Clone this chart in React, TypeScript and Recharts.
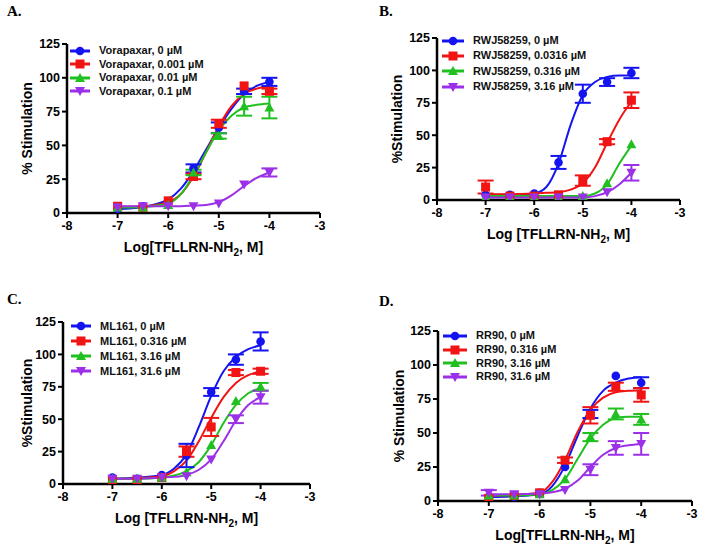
import { ComposedChart, ErrorBar, Legend, Line, Scatter, XAxis, YAxis } from "recharts";

const logDose = [-7, -6.5, -6, -5.5, -5, -4.5, -4];
const fitDose = [-7, -6.5, -6, -5.75, -5.5, -5.25, -5, -4.75, -4.5, -4.25, -4];
const xTicks = [-8, -7, -6, -5, -4, -3];
const yTicks = [0, 25, 50, 75, 100, 125];

const vorapaxarLabels = ["Vorapaxar, 0 µM", "Vorapaxar, 0.001 µM", "Vorapaxar, 0.01 µM", "Vorapaxar, 0.1 µM"];
const vorapaxarMean = [
  [3, 5, 8, 33, 63, 90, 97],
  [5, 4, 9, 27, 66, 94, 90],
  [4, 4, 6, 30, 57, 79, 78],
  [4, 5, 5, 5, 7, 21, 30],
];
const vorapaxarSem = [
  [0, 0, 0, 3, 4, 2, 3],
  [0, 0, 0, 2, 3, 0, 2],
  [0, 0, 0, 2, 2, 7, 8],
  [0, 0, 0, 0, 0, 0, 3],
];
const vorapaxarFit = [
  [3, 4.5, 10, 18, 31, 47, 63, 77, 88, 94, 97],
  [4.5, 5, 8, 14, 27, 45, 64, 79, 88, 92, 94],
  [4, 4.5, 7, 14, 28, 45, 61, 72, 78, 80, 81],
  [5, 5, 5, 5, 5.5, 6, 8, 13, 20, 26, 30],
];

const rwjLabels = ["RWJ58259, 0 µM", "RWJ58259, 0.0316 µM", "RWJ58259, 0.316 µM", "RWJ58259, 3.16 µM"];
const rwjMean = [
  [4, 4, 5, 29, 82, 91, 98],
  [10, 3, 3, 4, 15, 45, 77],
  [2, 2, 2, 2, 3, 13, 43],
  [2, 2, 2, 2, 2, 6, 21],
];
const rwjSem = [
  [0, 0, 0, 5, 7, 3, 4],
  [5, 0, 0, 0, 4, 2, 6],
  [0, 0, 0, 0, 0, 0, 0],
  [0, 0, 0, 0, 0, 0, 6],
];
const rwjFit = [
  [4, 4, 5, 10, 28, 58, 81, 91, 95, 96, 96],
  [4.5, 4.5, 5, 5.5, 6, 8, 13, 25, 44, 62, 76],
  [3, 3, 3, 3, 3, 3, 3, 5, 12, 28, 42],
  [2, 2, 2, 2, 2, 2, 2, 3, 6, 12, 21],
];

const ml161Labels = ["ML161, 0 µM", "ML161, 0.316 µM", "ML161, 3.16 µM", "ML161, 31.6 µM"];
const ml161Mean = [
  [5, 4, 7, 22, 71, 96, 110],
  [3, 3, 5, 25, 44, 86, 87],
  [4, 4, 5, 9, 30, 64, 75],
  [4, 4, 5, 6, 19, 50, 67],
];
const ml161Sem = [
  [0, 0, 0, 9, 3, 4, 7],
  [0, 0, 0, 4, 7, 2, 2],
  [0, 0, 0, 0, 0, 0, 3],
  [0, 0, 0, 0, 0, 3, 5],
];
const ml161Fit = [
  [4, 5, 7, 12, 23, 44, 68, 87, 98, 104, 107],
  [4, 4.5, 6, 10, 18, 33, 51, 67, 78, 84, 87],
  [4, 4, 5, 6.5, 10, 17, 30, 47, 61, 70, 74],
  [4, 4, 5, 5.5, 7, 11, 19, 33, 49, 61, 67],
];

const rr90Labels = ["RR90, 0 µM", "RR90, 0.316 µM", "RR90, 3.16 µM", "RR90, 31.6 µM"];
const rr90Mean = [
  [3, 3, 6, 25, 64, 92, 87],
  [2, 4, 6, 30, 63, 84, 78],
  [4, 4, 5, 16, 47, 64, 60],
  [6, 5, 5, 8, 23, 39, 42],
];
const rr90Sem = [
  [0, 0, 0, 0, 3, 0, 4],
  [0, 0, 0, 2, 6, 3, 5],
  [0, 0, 0, 0, 3, 4, 4],
  [2, 0, 0, 0, 4, 5, 8],
];
const rr90Fit = [
  [3, 3.5, 5, 11, 26, 48, 68, 81, 87, 90, 91],
  [4, 4.5, 6, 14, 30, 51, 67, 76, 80, 81, 81.5],
  [4, 4, 5, 8, 16, 31, 46, 56, 61, 62, 62],
  [5, 5, 5.5, 6.5, 9, 15, 25, 34, 39, 41, 42],
];

const COLORS = ["#1414f0", "#f01414", "#20c020", "#9b30e8"];
const SANS = "Arial, 'Liberation Sans', sans-serif";

const panels = [
  {
    letter: "A.", left: 0, top: 0, letterX: 7, letterY: 4,
    plot: { left: 67, right: 320, top: 44, bottom: 213 },
    yTitle: "% Stimulation", yTitleX: 27, xTitle: ["Log[TFLLRN-NH", "2", ", M]"],
    legend: { x: 70, y: 44, rowH: 13.5, lineW: 20 },
    labels: vorapaxarLabels, mean: vorapaxarMean, sem: vorapaxarSem, fit: vorapaxarFit,
  },
  {
    letter: "B.", left: 352, top: 0, letterX: 27, letterY: 4,
    plot: { left: 85, right: 328, top: 38, bottom: 200 },
    yTitle: "%Stimulation", yTitleX: 45, xTitle: ["Log [TFLLRN-NH", "2", ", M]"],
    legend: { x: 90, y: 33, rowH: 15.3, lineW: 22 },
    labels: rwjLabels, mean: rwjMean, sem: rwjSem, fit: rwjFit,
  },
  {
    letter: "C.", left: 0, top: 274, letterX: 7, letterY: 18,
    plot: { left: 63, right: 310, top: 48, bottom: 210 },
    yTitle: "%Stimulation", yTitleX: 27, xTitle: ["Log [TFLLRN-NH", "2", ", M]"],
    legend: { x: 71, y: 44.5, rowH: 15, lineW: 20 },
    labels: ml161Labels, mean: ml161Mean, sem: ml161Sem, fit: ml161Fit,
  },
  {
    letter: "D.", left: 352, top: 274, letterX: 27, letterY: 20,
    plot: { left: 86, right: 340, top: 57, bottom: 227 },
    yTitle: "% Stimulation", yTitleX: 47, xTitle: ["Log[TFLLRN-NH", "2", ", M]"],
    legend: { x: 91, y: 55, rowH: 13.7, lineW: 24 },
    labels: rr90Labels, mean: rr90Mean, sem: rr90Sem, fit: rr90Fit,
  },
];

const Marker = ({ kind, cx, cy, color }: any) => {
  if (kind === 0) return <circle cx={cx} cy={cy} r={4.3} fill={color} />;
  if (kind === 1) return <rect x={cx - 4.5} y={cy - 4.5} width={9} height={9} fill={color} />;
  if (kind === 2)
    return <polygon points={`${cx},${cy - 5} ${cx + 5},${cy + 4} ${cx - 5},${cy + 4}`} fill={color} />;
  return <polygon points={`${cx},${cy + 5} ${cx + 5},${cy - 4} ${cx - 5},${cy - 4}`} fill={color} />;
};

const LegendBox = ({ labels, rowH, lineW }: any) => (
  <div style={{ fontFamily: SANS, fontWeight: 700, fontSize: 11, color: "#111", lineHeight: 1 }}>
    {labels.map((t: string, i: number) => (
      <div key={t} style={{ display: "flex", alignItems: "center", height: rowH, whiteSpace: "nowrap" }}>
        <svg width={lineW + 9} height={12} style={{ flex: "none" }}>
          <line x1={0} x2={lineW} y1={6} y2={6} stroke={COLORS[i]} strokeWidth={3} />
          <Marker kind={i} cx={lineW / 2} cy={6} color={COLORS[i]} />
        </svg>
        <span>{t}</span>
      </div>
    ))}
  </div>
);

const Panel = ({ p }: any) => {
  const yAxisW = 45;
  const xAxisH = 40;
  const margin = {
    top: p.plot.top,
    left: p.plot.left - yAxisW,
    right: 352 - p.plot.right,
    bottom: 274 - p.plot.bottom - xAxisH,
  };
  const midY = (p.plot.top + p.plot.bottom) / 2;
  const midX = (p.plot.left + p.plot.right) / 2;
  const tickStyle = { fill: "#000", fontSize: 12.5, fontWeight: 700, fontFamily: SANS };

  return (
    <div style={{ position: "absolute", left: p.left, top: p.top, width: 352, height: 274 }}>
      <div
        style={{
          position: "absolute",
          left: p.letterX,
          top: p.letterY,
          fontFamily: "'Liberation Serif', 'Times New Roman', serif",
          fontWeight: 700,
          fontSize: 15,
          lineHeight: 1,
        }}
      >
        {p.letter}
      </div>
      <ComposedChart width={352} height={274} margin={margin}>
        <XAxis
          type="number"
          dataKey="x"
          domain={[-8, -3]}
          ticks={xTicks}
          height={xAxisH}
          allowDataOverflow
          axisLine={{ stroke: "#000", strokeWidth: 2.5 }}
          tickLine={{ stroke: "#000", strokeWidth: 2 }}
          tickSize={5}
          tickMargin={3}
          tick={tickStyle}
          label={{
            content: () => (
              <text
                x={midX}
                y={p.plot.bottom + 39}
                textAnchor="middle"
                fontFamily={SANS}
                fontWeight={700}
                fontSize={14}
                fill="#000"
              >
                <tspan>{p.xTitle[0]}</tspan>
                <tspan fontSize={10} dy={4}>{p.xTitle[1]}</tspan>
                <tspan dy={-4}>{p.xTitle[2]}</tspan>
              </text>
            ),
          }}
        />
        <YAxis
          type="number"
          dataKey="y"
          domain={[0, 125]}
          ticks={yTicks}
          width={yAxisW}
          allowDataOverflow
          axisLine={{ stroke: "#000", strokeWidth: 2.5 }}
          tickLine={{ stroke: "#000", strokeWidth: 2 }}
          tickSize={5}
          tickMargin={2}
          tick={tickStyle}
          label={{
            content: () => (
              <text
                x={p.yTitleX}
                y={midY}
                transform={`rotate(-90 ${p.yTitleX} ${midY})`}
                textAnchor="middle"
                dominantBaseline="central"
                fontFamily={SANS}
                fontWeight={700}
                fontSize={14}
                fill="#000"
              >
                {p.yTitle}
              </text>
            ),
          }}
        />
        <Legend
          layout="vertical"
          align="center"
          verticalAlign="middle"
          wrapperStyle={{ left: p.legend.x, top: p.legend.y, width: 200, height: p.legend.rowH * 4 }}
          content={() => <LegendBox labels={p.labels} rowH={p.legend.rowH} lineW={p.legend.lineW} />}
        />
        {p.fit.map((fit: number[], i: number) => (
          <Line
            key={`fit-${i}`}
            data={fitDose.map((x, j) => ({ x, y: fit[j] }))}
            dataKey="y"
            type="monotone"
            stroke={COLORS[i]}
            strokeWidth={2}
            dot={false}
            activeDot={false}
            legendType="none"
            isAnimationActive={false}
          />
        ))}
        {p.mean.map((mean: number[], i: number) => (
          <Scatter
            key={`pts-${i}`}
            data={logDose.map((x, j) => ({ x, y: mean[j], err: p.sem[i][j] }))}
            dataKey="y"
            fill={COLORS[i]}
            legendType="none"
            isAnimationActive={false}
            shape={(props: any) => <Marker kind={i} cx={props.cx} cy={props.cy} color={COLORS[i]} />}
          >
            <ErrorBar dataKey="err" direction="y" width={8} strokeWidth={2} stroke={COLORS[i]} />
          </Scatter>
        ))}
      </ComposedChart>
    </div>
  );
};

export default function App() {
  return (
    <div style={{ position: "absolute", left: 0, top: 0, width: 704, height: 548, background: "#fff" }}>
      {panels.map((p) => (
        <Panel key={p.letter} p={p} />
      ))}
    </div>
  );
}
